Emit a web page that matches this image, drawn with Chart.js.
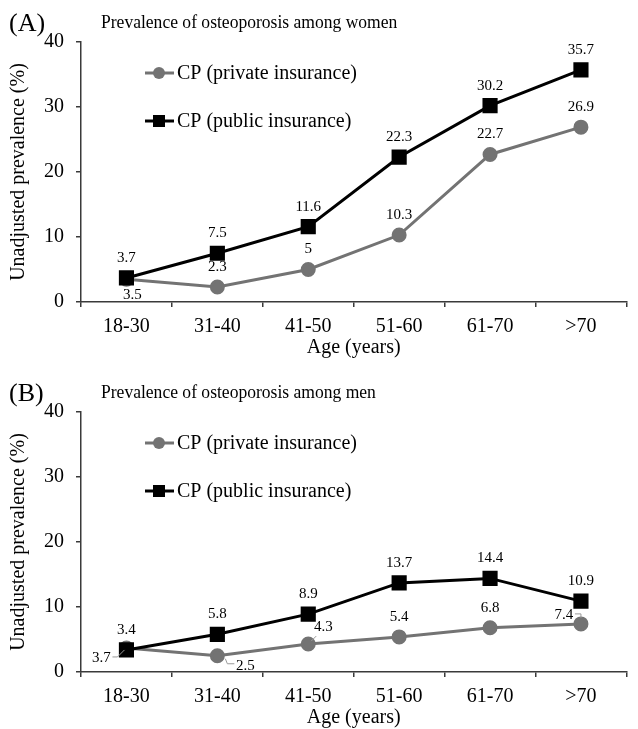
<!DOCTYPE html>
<html>
<head>
<meta charset="utf-8">
<script src="https://cdn.jsdelivr.net/npm/chart.js@4"></script>
<style>
  html, body { margin: 0; padding: 0; background: #fff; overflow: hidden; }
  .panel { position: absolute; left: 0; width: 638px; height: 370px; }
  #panelA { top: 0; }
  #panelB { top: 370px; }
</style>
</head>
<body>
<div class="panel" id="panelA"><canvas id="chartA"></canvas></div>
<div class="panel" id="panelB"><canvas id="chartB"></canvas></div>
<script>
  const AGE_GROUPS = ['18-30', '31-40', '41-50', '51-60', '61-70', '>70'];

  // Panel A - women
  const WOMEN_PRIVATE = [3.5, 2.3, 5, 10.3, 22.7, 26.9];
  const WOMEN_PUBLIC = [3.7, 7.5, 11.6, 22.3, 30.2, 35.7];

  // Panel B - men
  const MEN_PRIVATE = [3.7, 2.5, 4.3, 5.4, 6.8, 7.4];
  const MEN_PUBLIC = [3.4, 5.8, 8.9, 13.7, 14.4, 10.9];

  const Y_TICKS = [0, 10, 20, 30, 40];

  const GRAY = '#737373';
  const SERIF = "'Liberation Serif', 'DejaVu Serif', serif";

  // label placement per point: [dx, dy] of text centre, optional leader polyline
  const ABOVE = [0, -20];

  const labelsWomen = {
    private: [
      { off: [6, 16] }, { off: ABOVE }, { off: ABOVE },
      { off: ABOVE }, { off: ABOVE }, { off: ABOVE },
    ],
    public: AGE_GROUPS.map(() => ({ off: ABOVE })),
  };

  const labelsMen = {
    private: [
      { off: [-25, 10], leader: [[-14, 9], [-9, 9], [-2, 2]] },
      { off: [28, 10], leader: [[8, 3], [10, 8], [17, 8]] },
      { off: [15, -17], leader: [[3, -3], [8, -8]] },
      { off: ABOVE }, { off: ABOVE },
      { off: [-17, -9], leader: [[-6, -10], [0, -10], [0, -6]] },
    ],
    public: AGE_GROUPS.map(() => ({ off: ABOVE })),
  };

  // ===== Plugins =====

  const panelDecor = {
    id: 'panelDecor',
    afterDraw(chart, args, opts) {
      const ctx = chart.ctx;
      ctx.save();
      ctx.fillStyle = '#000';
      ctx.textBaseline = 'alphabetic';
      ctx.textAlign = 'left';
      ctx.font = '26px ' + SERIF;
      ctx.fillText(opts.tag, 9, 31);

      // title is slightly narrow in the original figure
      ctx.save();
      ctx.translate(101, 28);
      ctx.scale(0.9, 1);
      ctx.font = '19.5px ' + SERIF;
      ctx.fillText(opts.title, 0, 0);
      ctx.restore();

      // legend
      const items = [
        { ds: chart.data.datasets[0], y: 73 },
        { ds: chart.data.datasets[1], y: 121 },
      ];
      items.forEach((it) => {
        ctx.strokeStyle = it.ds.borderColor;
        ctx.lineWidth = 3;
        ctx.beginPath();
        ctx.moveTo(145, it.y);
        ctx.lineTo(174, it.y);
        ctx.stroke();
        ctx.fillStyle = it.ds.borderColor;
        if (it.ds.pointStyle === 'rect') {
          ctx.fillRect(153, it.y - 6, 12, 12);
        } else {
          ctx.beginPath();
          ctx.arc(159, it.y, 6, 0, Math.PI * 2);
          ctx.fill();
        }
        ctx.fillStyle = '#000';
        ctx.font = '20px ' + SERIF;
        ctx.fillText(it.ds.label, 177, it.y + 6);
      });
      ctx.restore();
    },
  };

  const pointLabels = {
    id: 'pointLabels',
    afterDatasetsDraw(chart, args, opts) {
      const ctx = chart.ctx;
      ctx.save();
      ctx.font = '15px ' + SERIF;
      ctx.textAlign = 'center';
      ctx.textBaseline = 'middle';
      chart.data.datasets.forEach((ds, i) => {
        const meta = chart.getDatasetMeta(i);
        const place = opts.placement[ds.key];
        meta.data.forEach((pt, j) => {
          const p = place[j];
          if (p.leader) {
            ctx.strokeStyle = '#999';
            ctx.lineWidth = 1;
            ctx.beginPath();
            p.leader.forEach(([dx, dy], k) => {
              if (k === 0) ctx.moveTo(pt.x + dx, pt.y + dy);
              else ctx.lineTo(pt.x + dx, pt.y + dy);
            });
            ctx.stroke();
          }
          ctx.fillStyle = '#000';
          ctx.fillText(String(ds.data[j]), pt.x + p.off[0], pt.y + p.off[1]);
        });
      });
      ctx.restore();
    },
  };

  // ===== Chart builder =====

  function buildChart(canvasId, tag, title, privateVals, publicVals, placement) {
    const axisColor = '#3a3a3a';
    const tickFont = { family: SERIF, size: 20 };

    return new Chart(document.getElementById(canvasId), {
      type: 'line',
      data: {
        labels: AGE_GROUPS,
        datasets: [
          {
            key: 'private',
            label: 'CP (private insurance)',
            data: privateVals,
            borderColor: GRAY,
            backgroundColor: GRAY,
            borderWidth: 3,
            pointStyle: 'circle',
            pointRadius: 6,
            pointHoverRadius: 6,
            tension: 0,
            order: 2,
          },
          {
            key: 'public',
            label: 'CP (public insurance)',
            data: publicVals,
            borderColor: '#000',
            backgroundColor: '#000',
            borderWidth: 3,
            pointStyle: 'rect',
            pointRadius: 8.6,
            pointHoverRadius: 8.6,
            tension: 0,
            order: 1,
          },
        ],
      },
      options: {
        responsive: true,
        maintainAspectRatio: false,
        animation: false,
        layout: { padding: { top: 42, right: 0, left: 0, bottom: 8 } },
        plugins: {
          legend: { display: false },
          tooltip: { enabled: false },
          panelDecor: { tag: tag, title: title },
          pointLabels: { placement: placement },
        },
        scales: {
          x: {
            offset: true,
            grid: {
              offset: true,
              drawOnChartArea: false,
              drawTicks: true,
              tickLength: 5,
              color: axisColor,
              lineWidth: 1.5,
            },
            border: { color: axisColor, width: 1.5 },
            ticks: { font: tickFont, color: '#000', padding: 8, maxRotation: 0 },
            title: {
              display: true,
              text: 'Age (years)',
              font: { family: SERIF, size: 20 },
              color: '#000',
              padding: { top: 0, bottom: 2 },
            },
            afterFit(scale) { scale.height = 60; },
          },
          y: {
            min: 0,
            max: 40,
            afterBuildTicks(scale) { scale.ticks = Y_TICKS.map((v) => ({ value: v })); },
            grid: {
              drawOnChartArea: false,
              drawTicks: true,
              tickLength: 5,
              color: axisColor,
              lineWidth: 1.5,
            },
            border: { color: axisColor, width: 1.5 },
            ticks: { font: tickFont, color: '#000', padding: 12 },
            title: {
              display: true,
              text: 'Unadjusted prevalence (%)',
              font: { family: SERIF, size: 20 },
              color: '#000',
              padding: { top: 7, bottom: 0 },
            },
            afterFit(scale) { scale.width = 81; },
          },
        },
      },
      plugins: [panelDecor, pointLabels],
    });
  }

  buildChart('chartA', '(A)', 'Prevalence of osteoporosis among women', WOMEN_PRIVATE, WOMEN_PUBLIC, labelsWomen);
  buildChart('chartB', '(B)', 'Prevalence of osteoporosis among men', MEN_PRIVATE, MEN_PUBLIC, labelsMen);
</script>
</body>
</html>
